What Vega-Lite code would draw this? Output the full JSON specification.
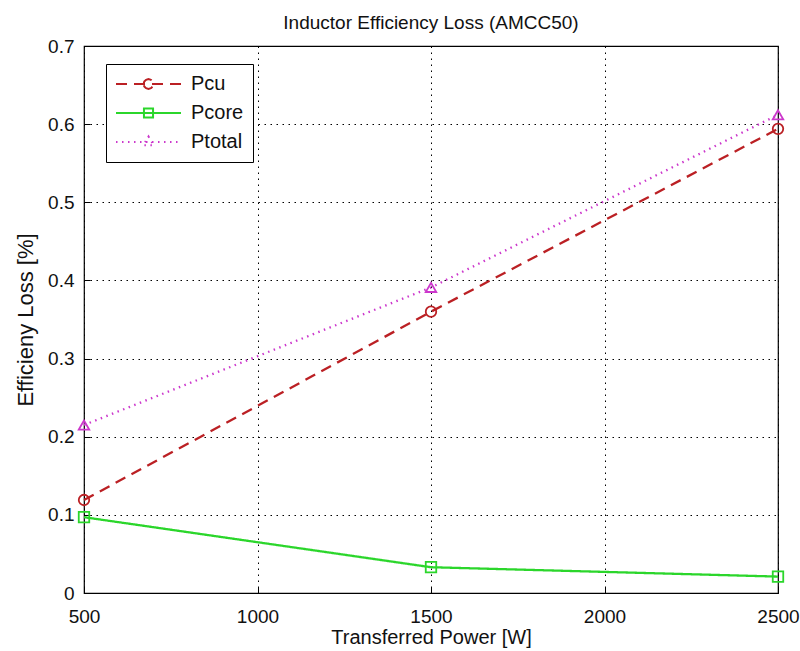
{
  "$schema": "https://vega.github.io/schema/vega-lite/v6.json",
  "width": 694,
  "height": 547,
  "autosize": "none",
  "padding": {"left": 84, "top": 46, "right": 22, "bottom": 58},
  "background": "white",
  "title": {"text": "Inductor Efficiency Loss (AMCC50)", "font": "Liberation Sans", "fontSize": 19, "fontWeight": "normal", "color": "#111", "offset": 4, "anchor": "middle"},
  "config": {
    "view": {"stroke": "black", "strokeWidth": 1.2},
    "axis": {
      "labelFont": "Liberation Sans", "labelFontSize": 19, "labelColor": "#111",
      "titleFont": "Liberation Sans", "titleFontSize": 20, "titleFontWeight": "normal", "titleColor": "#111",
      "grid": true, "gridColor": "black", "gridDash": [1.5, 4.5], "gridWidth": 1, "gridOpacity": 1,
      "domain": false, "ticks": true, "tickColor": "black", "tickSize": -6, "tickWidth": 1
    },
    "legend": {
      "title": null, "orient": "none", "legendX": 22, "legendY": 18,
      "strokeColor": "black", "fillColor": "white", "padding": 9,
      "symbolSize": 4225, "clipHeight": 22, "rowPadding": 7,
      "labelFont": "Liberation Sans", "labelFontSize": 20, "labelColor": "#111", "labelOffset": 9,
      "symbolStrokeWidth": 2
    }
  },
  "data": {"values": [
    {"power": 500, "loss": 0.119, "series": "Pcu"},
    {"power": 1500, "loss": 0.360, "series": "Pcu"},
    {"power": 2500, "loss": 0.594, "series": "Pcu"},
    {"power": 500, "loss": 0.097, "series": "Pcore"},
    {"power": 1500, "loss": 0.033, "series": "Pcore"},
    {"power": 2500, "loss": 0.021, "series": "Pcore"},
    {"power": 500, "loss": 0.215, "series": "Ptotal"},
    {"power": 1500, "loss": 0.391, "series": "Ptotal"},
    {"power": 2500, "loss": 0.612, "series": "Ptotal"}
  ]},
  "encoding": {
    "x": {"field": "power", "type": "quantitative", "scale": {"domain": [500, 2500], "nice": false, "zero": false},
      "axis": {"values": [500, 1000, 1500, 2000, 2500], "title": "Transferred Power [W]", "labelPadding": 20, "titlePadding": 1, "format": "d", "labelFlush": false}},
    "y": {"field": "loss", "type": "quantitative", "scale": {"domain": [0, 0.7], "nice": false},
      "axis": {"values": [0, 0.1, 0.2, 0.3, 0.4, 0.5, 0.6, 0.7], "title": "Efficieny Loss [%]", "titleFontSize": 22, "format": "~g", "labelPadding": 16, "titlePadding": 10, "labelFlush": false}},
    "color": {"field": "series", "type": "nominal",
      "scale": {"domain": ["Pcu", "Pcore", "Ptotal"], "range": ["#bb2024", "#2bd62b", "#cc38cc"]}}
  },
  "layer": [
    {
      "mark": {"type": "line", "strokeWidth": 2.3},
      "encoding": {
        "strokeDash": {"field": "series", "type": "nominal",
          "scale": {"domain": ["Pcu", "Pcore", "Ptotal"], "range": [[11, 7], [1, 0], [1.5, 4.5]]}}
      }
    },
    {
      "transform": [{"filter": "datum.series === 'Pcu'"}],
      "mark": {"type": "point", "shape": "circle", "filled": false, "size": 110, "strokeWidth": 1.8, "opacity": 1}
    },
    {
      "transform": [{"filter": "datum.series === 'Pcore'"}],
      "mark": {"type": "point", "shape": "square", "filled": false, "size": 110, "strokeWidth": 1.8, "opacity": 1}
    },
    {
      "transform": [{"filter": "datum.series === 'Ptotal'"}],
      "mark": {"type": "point", "shape": "triangle-up", "filled": false, "size": 110, "strokeWidth": 1.8, "opacity": 1}
    },
    {
      "transform": [{"filter": "false"}],
      "mark": {"type": "point", "filled": false, "size": 4225, "strokeWidth": 2, "opacity": 1},
      "encoding": {
        "shape": {"field": "series", "type": "nominal",
          "scale": {"domain": ["Pcu", "Pcore", "Ptotal"], "range": [
            "M-1,0L1,0M-0.15,0L-0.13,-0.075L-0.075,-0.13L0,-0.15L0.075,-0.13L0.13,-0.075L0.15,0L0.13,0.075L0.075,0.13L0,0.15L-0.075,0.13L-0.13,0.075Z",
            "M-1,0L1,0M-0.14,-0.14L0.14,-0.14L0.14,0.14L-0.14,0.14Z",
            "M-1,0L1,0M0,-0.17L0.04,-0.105L0.08,-0.035L0.12,0.035L0.16,0.1L0.08,0.1L0,0.1L-0.08,0.1L-0.16,0.1L-0.12,0.035L-0.08,-0.035L-0.04,-0.105Z"]}},
        "strokeDash": {"field": "series", "type": "nominal"}
      }
    }
  ]
}
